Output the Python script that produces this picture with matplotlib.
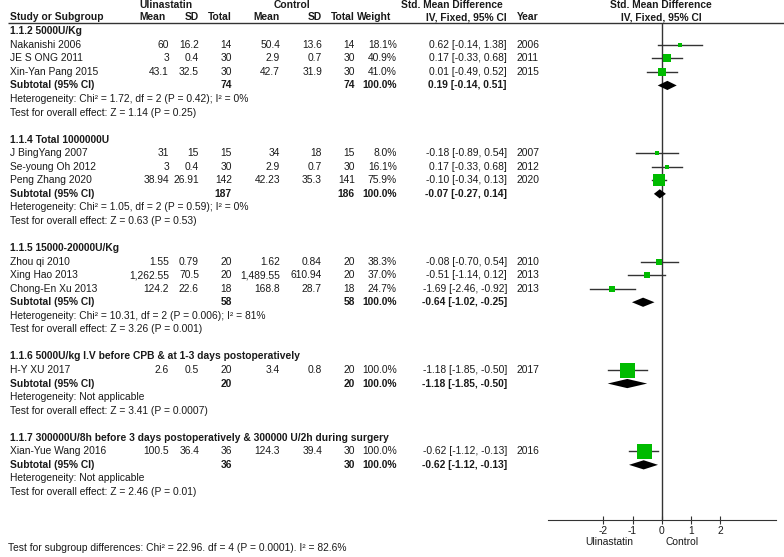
import matplotlib.pyplot as plt

plt.rcParams['font.family'] = ['Liberation Sans', 'DejaVu Sans']
plt.rcParams['axes.unicode_minus'] = False

# Subgroups
subgroups = ['1.1.2 5000U/Kg', '1.1.4 Total 1000000U', '1.1.5 15000-20000U/Kg',
             '1.1.6 5000U/kg I.V before CPB & at 1-3 days postoperatively',
             '1.1.7 300000U/8h before 3 days postoperatively & 300000 U/2h during surgery']
sub_ul_n = [74, 187, 58, 20, 36]
sub_ct_n = [74, 186, 58, 20, 30]
sub_smd = [0.19, -0.07, -0.64, -1.18, -0.62]
sub_lo = [-0.14, -0.27, -1.02, -1.85, -1.12]
sub_hi = [0.51, 0.14, -0.25, -0.50, -0.13]
heterogeneity = ['Heterogeneity: Chi² = 1.72, df = 2 (P = 0.42); I² = 0%',
                 'Heterogeneity: Chi² = 1.05, df = 2 (P = 0.59); I² = 0%',
                 'Heterogeneity: Chi² = 10.31, df = 2 (P = 0.006); I² = 81%',
                 'Heterogeneity: Not applicable',
                 'Heterogeneity: Not applicable']
overall = ['Test for overall effect: Z = 1.14 (P = 0.25)',
           'Test for overall effect: Z = 0.63 (P = 0.53)',
           'Test for overall effect: Z = 3.26 (P = 0.001)',
           'Test for overall effect: Z = 3.41 (P = 0.0007)',
           'Test for overall effect: Z = 2.46 (P = 0.01)']

# Studies
study = ['Nakanishi 2006', 'JE S ONG 2011', 'Xin-Yan Pang 2015',
         'J BingYang 2007', 'Se-young Oh 2012', 'Peng Zhang 2020',
         'Zhou qi 2010', 'Xing Hao 2013', 'Chong-En Xu 2013',
         'H-Y XU 2017', 'Xian-Yue Wang 2016']
group = [0, 0, 0, 1, 1, 1, 2, 2, 2, 3, 4]
ul_mean = [60, 3, 43.1, 31, 3, 38.94, 1.55, 1262.55, 124.2, 2.6, 100.5]
ul_sd = [16.2, 0.4, 32.5, 15, 0.4, 26.91, 0.79, 70.5, 22.6, 0.5, 36.4]
ul_n = [14, 30, 30, 15, 30, 142, 20, 20, 18, 20, 36]
ct_mean = [50.4, 2.9, 42.7, 34, 2.9, 42.23, 1.62, 1489.55, 168.8, 3.4, 124.3]
ct_sd = [13.6, 0.7, 31.9, 18, 0.7, 35.3, 0.84, 610.94, 28.7, 0.8, 39.4]
ct_n = [14, 30, 30, 15, 30, 141, 20, 20, 18, 20, 30]
weight = [18.1, 40.9, 41.0, 8.0, 16.1, 75.9, 38.3, 37.0, 24.7, 100.0, 100.0]
smd = [0.62, 0.17, 0.01, -0.18, 0.17, -0.10, -0.08, -0.51, -1.69, -1.18, -0.62]
lo = [-0.14, -0.33, -0.49, -0.89, -0.33, -0.34, -0.70, -1.14, -2.46, -1.85, -1.12]
hi = [1.38, 0.68, 0.52, 0.54, 0.68, 0.13, 0.54, 0.12, -0.92, -0.50, -0.13]
year = [2006, 2011, 2015, 2007, 2012, 2020, 2010, 2013, 2013, 2017, 2016]

subgroup_test = 'Test for subgroup differences: Chi² = 22.96. df = 4 (P = 0.0001). I² = 82.6%'
ticks = [-2, -1, 0, 1, 2]

W, H = 784, 557
fig = plt.figure(figsize=(W / 100, H / 100), dpi=100)
bg = fig.add_axes([0, 0, 1, 1])
bg.set_xlim(0, W)
bg.set_ylim(H, 0)
bg.axis('off')

fs = 7.4
txt = '#1a1a1a'
y0, dy = 44.8, 13.55


def row_y(i):
    return y0 + dy * i


def num(v):
    return f'{v:,}'


def put(x, y, t, bold=False, ha='left'):
    bg.text(x, y, t, fontsize=fs, weight='bold' if bold else 'normal',
            ha=ha, va='center', color=txt)


# header
put(166, 5, 'Ulinastatin', True, 'center')
put(292, 5, 'Control', True, 'center')
put(452, 5, 'Std. Mean Difference', True, 'center')
put(661, 5, 'Std. Mean Difference', True, 'center')
hy = 17.5
put(10, hy, 'Study or Subgroup', True)
for x, t in [(166, 'Mean'), (199, 'SD'), (232, 'Total'), (280, 'Mean'),
             (322, 'SD'), (355, 'Total'), (391, 'Weight'), (507, 'IV, Fixed, 95% CI')]:
    put(x, hy, t, True, 'right')
put(517, hy, 'Year', True)
put(661, hy, 'IV, Fixed, 95% CI', True, 'center')
bg.hlines(23, 8, W, color='#333333', lw=1)

# forest axes
ax = fig.add_axes([548 / W, (H - 520) / H, 227.6 / W, 497 / H])
ax.set_xlim(-3.89, 3.89)
ax.set_ylim(520, 23)
ax.patch.set_visible(False)
for s in ['top', 'left', 'right']:
    ax.spines[s].set_visible(False)
ax.spines['bottom'].set_color('#333333')
ax.set_yticks([])
ax.set_xticks(ticks)
ax.tick_params(axis='x', direction='inout', length=6, pad=1, labelsize=fs,
               color='#333333', labelcolor=txt)
ax.axvline(0, color='#333333', lw=1, zorder=1)

row = 0
for g in range(len(subgroups)):
    put(10, row_y(row - 1), subgroups[g], True)
    for k in [k for k in range(len(study)) if group[k] == g]:
        y = row_y(row)
        cells = [(169, num(ul_mean[k])), (199, num(ul_sd[k])), (232, str(ul_n[k])),
                 (280, num(ct_mean[k])), (322, num(ct_sd[k])), (355, str(ct_n[k])),
                 (397, f'{weight[k]:.1f}%'),
                 (507, f'{smd[k]:.2f} [{lo[k]:.2f}, {hi[k]:.2f}]')]
        put(10, y, study[k])
        for x, t in cells:
            put(x, y, t, ha='right')
        put(517, y, str(year[k]))
        ax.plot([lo[k], hi[k]], [y, y], color='#333333', lw=1, zorder=2)
        side = 2 + 13 * weight[k] / 100
        ax.plot(smd[k], y, marker='s', markersize=side * 0.72, color='#00bb00',
                markeredgewidth=0, zorder=3)
        row += 1
    y = row_y(row)
    put(10, y, 'Subtotal (95% CI)', True)
    for x, t in [(232, str(sub_ul_n[g])), (355, str(sub_ct_n[g])), (397, '100.0%'),
                 (507, f'{sub_smd[g]:.2f} [{sub_lo[g]:.2f}, {sub_hi[g]:.2f}]')]:
        put(x, y, t, True, 'right')
    ax.fill([sub_lo[g], sub_smd[g], sub_hi[g], sub_smd[g]],
            [y, y - 4.6, y, y + 4.6], color='black', lw=0, zorder=4)
    put(10, row_y(row + 1), heterogeneity[g])
    put(10, row_y(row + 2), overall[g])
    row += 5

put(633, 542, 'Ulinastatin', ha='right')
put(666, 542, 'Control')
put(8, 548, subgroup_test)

fig.savefig('out.png', dpi=100)
